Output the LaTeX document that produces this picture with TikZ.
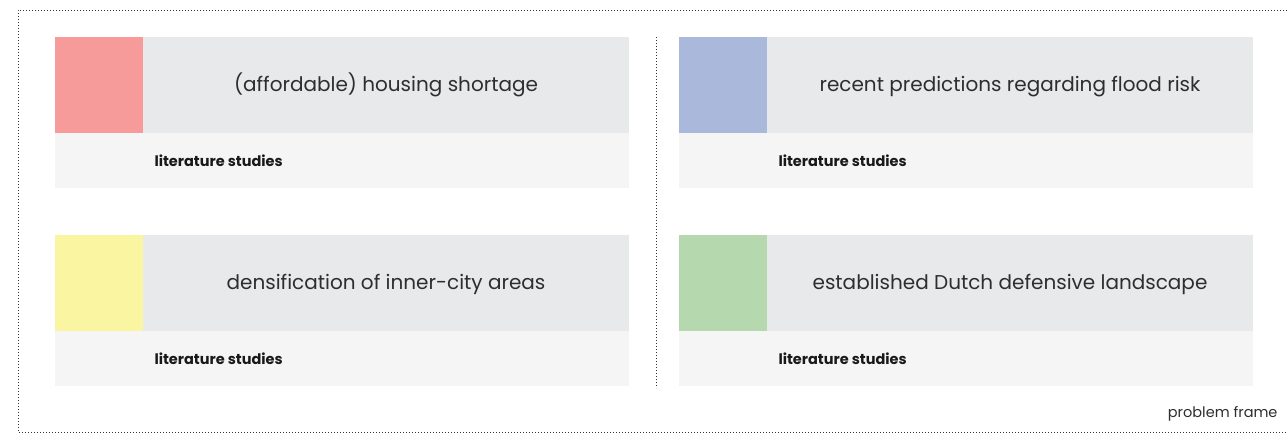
\documentclass[tikz,border=0pt]{standalone}
\usepackage{fontspec}
\setmainfont{Poppins}
\usetikzlibrary{positioning}

\definecolor{housingred}{HTML}{F69A9A}
\definecolor{floodblue}{HTML}{AAB8DC}
\definecolor{denseyellow}{HTML}{FAF5A0}
\definecolor{dutchgreen}{HTML}{B6D8AE}
\definecolor{headgray}{HTML}{E8E9EB}
\definecolor{footgray}{HTML}{F5F5F5}
\definecolor{textdark}{HTML}{2E2E2E}

\tikzset{
  swatch/.style={minimum width=88pt, minimum height=96pt, inner sep=0pt, outer sep=0pt},
  header/.style={fill=headgray, minimum width=486pt, minimum height=96pt, inner sep=0pt, outer sep=0pt,
    text height=17pt, text depth=4pt, text=textdark, font=\fontsize{20}{24}\selectfont},
  footer/.style={fill=footgray, minimum width=574pt, minimum height=55pt, inner sep=0pt, outer sep=0pt},
  source/.style={text=black!90, font=\bfseries\fontsize{14.5}{17}\selectfont, anchor=west},
  frameline/.style={line width=0.8pt, dash pattern=on 0.8pt off 2.2pt, black!80}
}

\begin{document}
\begin{tikzpicture}[x=1pt, y=-1pt]
    \useasboundingbox (0,0) rectangle (1287,434);

    % Problem frame border
    \draw[frameline] (1287,10) -- (18,10) -- (18,432) -- (1287,432);
    \node[text=textdark, font=\fontsize{14.5}{17}\selectfont, anchor=east] (frame) at (1281,414) {problem frame};

    % Divider between columns
    \draw[frameline] (656,37) -- (656,388);

    % Housing shortage
    \node[swatch, fill=housingred, anchor=north west] (housing) at (55,37) {};
    \node[header, right=0pt of housing] (housinghead) {(affordable) housing shortage};
    \node[footer, below right=0pt and 0pt of housing.south west, anchor=north west] (housingfoot) {};
    \node[source] at ([xshift=96pt]housingfoot.west) {literature studies};

    % Flood risk
    \node[swatch, fill=floodblue, anchor=north west] (flood) at (679,37) {};
    \node[header, right=0pt of flood] (floodhead) {recent predictions regarding flood risk};
    \node[footer, below right=0pt and 0pt of flood.south west, anchor=north west] (floodfoot) {};
    \node[source] at ([xshift=96pt]floodfoot.west) {literature studies};

    % Densification
    \node[swatch, fill=denseyellow, anchor=north west] (dense) at (55,235) {};
    \node[header, right=0pt of dense] (densehead) {densification of inner-city areas};
    \node[footer, below right=0pt and 0pt of dense.south west, anchor=north west] (densefoot) {};
    \node[source] at ([xshift=96pt]densefoot.west) {literature studies};

    % Defensive landscape
    \node[swatch, fill=dutchgreen, anchor=north west] (dutch) at (679,235) {};
    \node[header, right=0pt of dutch] (dutchhead) {established Dutch defensive landscape};
    \node[footer, below right=0pt and 0pt of dutch.south west, anchor=north west] (dutchfoot) {};
    \node[source] at ([xshift=96pt]dutchfoot.west) {literature studies};

\end{tikzpicture}
\end{document}
